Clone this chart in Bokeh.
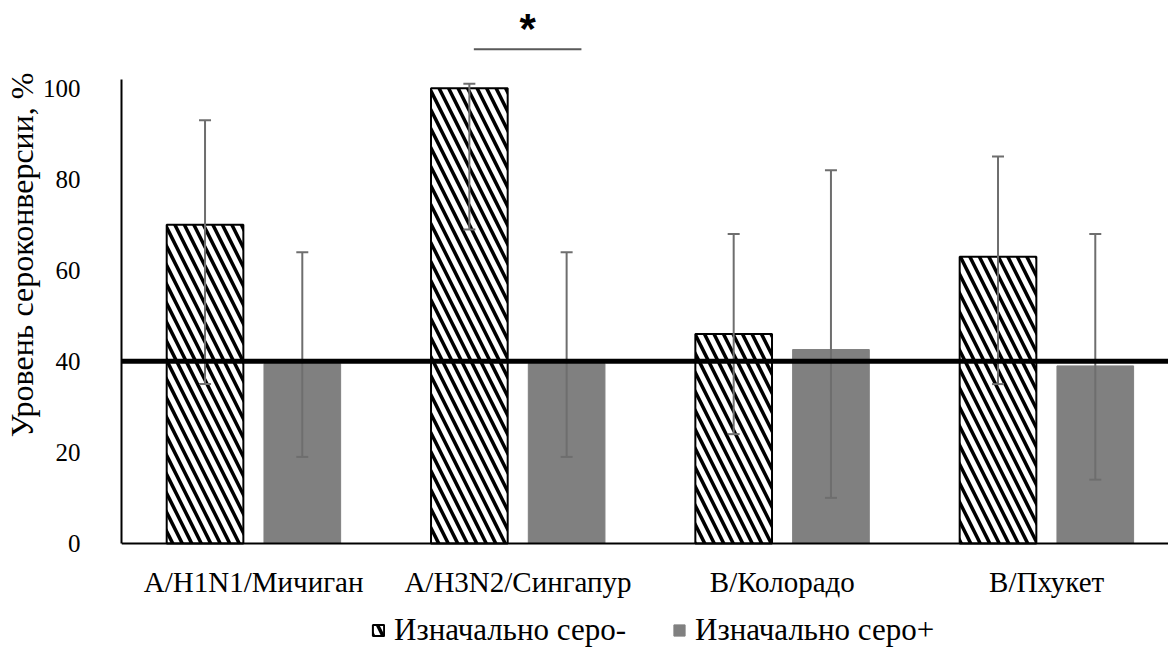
from bokeh.plotting import figure
from bokeh.models import (ColumnDataSource, Range1d, Whisker, TeeHead, Span, Title,
                          Legend, LegendItem, FixedTicker)
from bokeh.core.properties import value
from bokeh.embed import file_html
from bokeh.resources import INLINE

# Vaccine strains
categories = ["A/H1N1/Мичиган", "A/H3N2/Сингапур", "B/Колорадо", "B/Пхукет"]

# Seroconversion rate, % (initially seronegative)
seroneg = [70, 100, 46, 63]
seroneg_upper = [93, 101, 68, 85]
seroneg_lower = [35, 69, 24, 35]

# Seroconversion rate, % (initially seropositive)
seropos = [39.5, 39.5, 42.6, 39]
seropos_upper = [64, 64, 82, 68]
seropos_lower = [19, 19, 10, 14]

# Protective threshold, %
threshold = 40

y_ticks = [0, 20, 40, 60, 80, 100]

FONT = "'Liberation Serif', 'DejaVu Serif', serif"
BAR_W = 0.29
OFFSET = 0.184
ERR_COLOR = "#6e6e6e"

centers = [i + 0.5 for i in range(len(categories))]

src_neg = ColumnDataSource(dict(
    x=[c - OFFSET for c in centers], top=seroneg,
    upper=seroneg_upper, lower=seroneg_lower))
src_pos = ColumnDataSource(dict(
    x=[c + OFFSET for c in centers], top=seropos,
    upper=seropos_upper, lower=seropos_lower))

# The frame reaches the bottom of the canvas; the category axis sits at y = 0
# and the legend is placed inside the frame below it.
p = figure(width=1168, height=653, output_backend="svg", toolbar_location=None,
           x_range=Range1d(0, 3.961), y_range=Range1d(-24.2, 117.1),
           min_border_left=121, min_border_right=0, min_border_top=10,
           min_border_bottom=0)
p.outline_line_color = None
p.xgrid.visible = False
p.ygrid.visible = False
p.background_fill_color = "white"
p.border_fill_color = "white"

r_neg = p.vbar(x="x", top="top", width=BAR_W, source=src_neg,
               fill_color="white", line_color="black", line_width=2,
               hatch_pattern="\\", hatch_color="black", hatch_weight=3.5,
               hatch_scale=19)
r_pos = p.vbar(x="x", top="top", width=BAR_W, source=src_pos,
               fill_color="#808080", line_color="#808080", line_width=1)

for src in (src_neg, src_pos):
    p.add_layout(Whisker(
        base="x", upper="upper", lower="lower", source=src, level="annotation",
        line_color=ERR_COLOR, line_width=2,
        upper_head=TeeHead(size=12, line_color=ERR_COLOR, line_width=2),
        lower_head=TeeHead(size=12, line_color=ERR_COLOR, line_width=2)))

p.add_layout(Span(location=threshold, dimension="width", level="annotation",
                  line_color="black", line_width=5))

# Significance mark over A/H3N2
sig_idx = 1
sig_y = 108.6
p.segment(x0=[centers[sig_idx] - 0.167], x1=[centers[sig_idx] + 0.24],
          y0=[sig_y], y1=[sig_y], line_color="#595959", line_width=2)
p.text(x=[centers[sig_idx] + 0.037], y=[sig_y + 4.6], text=["*"],
       text_font=value("Liberation Sans"), text_font_size="42px",
       text_font_style="bold", text_align="center", text_baseline="middle",
       text_color="black")

# Axes
yax = p.yaxis[0]
yax.ticker = FixedTicker(ticks=y_ticks)
yax.bounds = (0, 102)
yax.axis_line_color = "black"
yax.axis_line_width = 2
yax.major_tick_line_color = None
yax.minor_tick_line_color = None
yax.major_label_text_font = FONT
yax.major_label_text_font_size = "25px"
yax.major_label_text_color = "black"
yax.major_label_standoff = 35

xax = p.xaxis[0]
xax.fixed_location = 0
xax.ticker = FixedTicker(ticks=centers)
xax.major_label_overrides = {c: name for c, name in zip(centers, categories)}
xax.axis_line_color = "black"
xax.axis_line_width = 2
xax.major_tick_line_color = None
xax.minor_tick_line_color = None
xax.major_label_text_font = FONT
xax.major_label_text_font_size = "29px"
xax.major_label_text_color = "black"
xax.major_label_standoff = 17

p.add_layout(Title(text="Уровень сероконверсии, %", align="right", offset=62,
                   standoff=0, text_font=FONT, text_font_size="32px",
                   text_font_style="normal", text_color="black"), "left")

legend = Legend(items=[LegendItem(label="Изначально серо-", renderers=[r_neg]),
                       LegendItem(label="Изначально серо+", renderers=[r_pos])],
                orientation="horizontal", location=(250, 5),
                border_line_color=None, background_fill_alpha=0,
                label_text_font=FONT, label_text_font_size="31px",
                label_text_color="black", glyph_width=14, glyph_height=14,
                label_standoff=9, spacing=46, padding=0, margin=0)
p.add_layout(legend, "center")

open("out.html", "w").write(file_html(p, INLINE))
